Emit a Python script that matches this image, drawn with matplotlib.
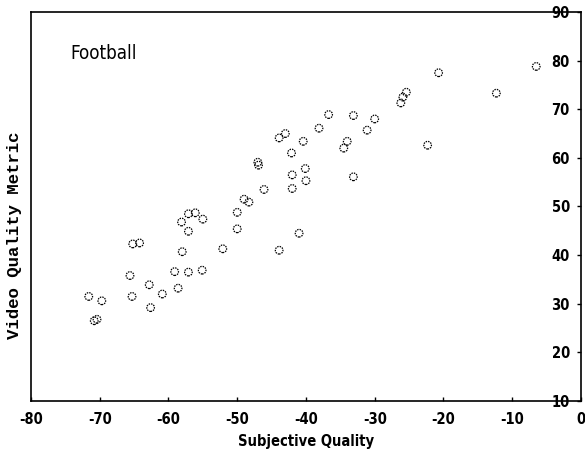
import matplotlib
matplotlib.use("Agg")
import matplotlib.pyplot as plt
from matplotlib import font_manager as fm

# Subjective quality (x) vs video quality metric (y)
subjective = [-71.6, -69.7, -70.8, -70.4, -65.2, -64.2, -65.6, -65.3, -62.8, -62.6,
              -60.9, -59.1, -58.6, -58.0, -57.1, -57.1, -55.1, -52.1, -50.0, -43.9,
              -41.0, -58.1, -57.1, -56.1, -55.0, -50.0, -49.0, -48.3, -46.1, -42.0,
              -42.0, -40.0, -40.1, -33.1, -47.0, -46.9, -42.1, -43.9, -43.0, -40.4,
              -34.5, -34.0, -22.3, -38.1, -31.1, -36.7, -33.1, -30.0, -26.2, -25.9,
              -25.4, -20.7, -12.3, -6.5]
metric = [31.5, 30.6, 26.5, 26.8, 42.3, 42.5, 35.8, 31.5, 33.9, 29.2,
          32.0, 36.6, 33.2, 40.7, 36.5, 44.9, 36.9, 41.3, 45.4, 41.0,
          44.5, 46.8, 48.5, 48.7, 47.4, 48.8, 51.5, 50.9, 53.5, 53.7,
          56.5, 55.3, 57.8, 56.1, 59.1, 58.5, 61.0, 64.1, 65.0, 63.4,
          62.0, 63.4, 62.6, 66.1, 65.7, 68.9, 68.7, 68.0, 71.3, 72.5,
          73.5, 77.5, 73.3, 78.8]
x_ticks = [-80, -70, -60, -50, -40, -30, -20, -10, 0]
y_ticks = [10, 20, 30, 40, 50, 60, 70, 80, 90]
label_text = "Football"

def narrow_font(size, weight="bold"):
    return fm.FontProperties(family="DejaVu Sans", stretch="condensed",
                             weight=weight, size=size)

fig = plt.figure(figsize=(5.85, 4.55), dpi=100)
ax = fig.add_axes([0.053, 0.1187, 0.940, 0.855])

ax.scatter(subjective, metric, s=30, facecolors="none", edgecolors="black",
           linewidths=0.9, linestyles=(0, (1.2, 0.8)), zorder=3)

ax.set_xlim(-80, 0)
ax.set_ylim(10, 90)
ax.set_xticks(x_ticks)
ax.set_yticks(y_ticks)
ax.set_xticklabels([str(v) for v in x_ticks], fontproperties=narrow_font(10.5))
ax.set_yticklabels([str(v) for v in y_ticks], fontproperties=narrow_font(10.5))

ax.tick_params(axis="x", direction="in", length=3, width=1, pad=8)
ax.yaxis.tick_right()
ax.tick_params(axis="y", direction="in", length=3, width=1, pad=-8,
               labelright=True, labelleft=False)
for lab in ax.get_yticklabels():
    lab.set_horizontalalignment("right")

for sp in ax.spines.values():
    sp.set_linewidth(1.2)
    sp.set_color("black")

ax.set_xlabel("Subjective Quality", fontproperties=narrow_font(10.5), labelpad=5)
fig.text(0.024, 0.483, "Video Quality Metric", rotation=90, ha="center", va="center",
         family=["Liberation Mono", "DejaVu Sans Mono"], fontweight="bold", fontsize=12.5)

ax.text(-74.3, 81.4, label_text, fontproperties=narrow_font(13.5, "normal"),
        ha="left", va="center")

fig.savefig("out.png", dpi=100)
